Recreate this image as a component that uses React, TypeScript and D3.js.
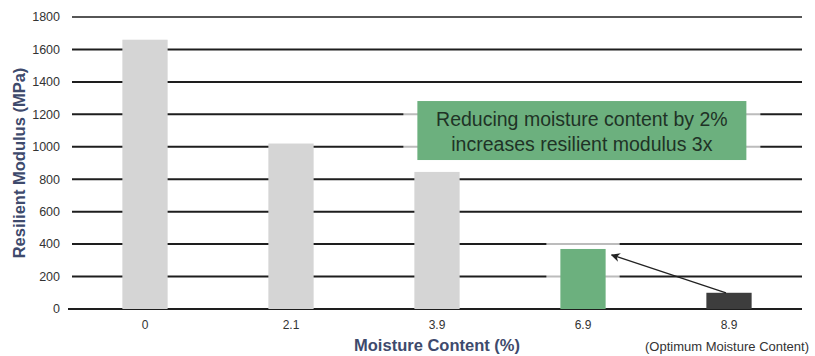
import * as d3 from "d3";
import { useEffect, useRef } from "react";

const categories = ["0", "2.1", "3.9", "6.9", "8.9"];
const modulusValues = [1660, 1020, 845, 370, 100];
const barColors = ["#d5d5d5", "#d5d5d5", "#d5d5d5", "#6cb07e", "#3d3d3d"];
const yTicks = [0, 200, 400, 600, 800, 1000, 1200, 1400, 1600, 1800];
const noteLines = ["Reducing moisture content by 2%", "increases resilient modulus 3x"];

export default function App() {
  const ref = useRef<SVGSVGElement>(null);

  useEffect(() => {
    if (!ref.current) return;
    const width = 815;
    const height = 356;
    const svg = d3.select(ref.current);
    svg.selectAll("*").remove();

    const margin = { top: 17, right: 13, bottom: 47, left: 72 };
    const innerW = width - margin.left - margin.right;
    const innerH = height - margin.top - margin.bottom;

    const x = d3
      .scaleBand()
      .domain(categories)
      .range([0, innerW])
      .paddingInner(0.69)
      .paddingOuter(0.345);
    const y = d3.scaleLinear().domain([0, 1800]).range([innerH, 0]);

    const g = svg
      .append("g")
      .attr("transform", `translate(${margin.left},${margin.top})`);

    // grid lines
    g.selectAll(".grid")
      .data(yTicks)
      .enter()
      .append("line")
      .attr("x1", (d) => (d === 0 ? -4 : 0))
      .attr("x2", innerW)
      .attr("y1", (d) => y(d))
      .attr("y2", (d) => y(d))
      .attr("stroke", "#1e1e1e")
      .attr("stroke-width", (d) => (d === 1800 ? 1.3 : 2));

    // y tick labels
    g.selectAll(".ylab")
      .data(yTicks)
      .enter()
      .append("text")
      .attr("x", -12)
      .attr("y", (d) => y(d))
      .attr("dy", "0.35em")
      .attr("text-anchor", "end")
      .attr("font-family", "Liberation Sans, Arial, sans-serif")
      .attr("font-size", 12.5)
      .attr("fill", "#333")
      .text((d) => d);

    // faded patch over the grid around the green bar
    g.append("rect")
      .attr("x", x("6.9")! - 14)
      .attr("y", y(400) - 3)
      .attr("width", x.bandwidth() + 28)
      .attr("height", innerH - y(400) + 1)
      .attr("fill", "#fff")
      .attr("opacity", 0.7);

    // bars
    g.selectAll(".bar")
      .data(modulusValues)
      .enter()
      .append("rect")
      .attr("x", (_, i) => x(categories[i])!)
      .attr("y", (d) => y(d))
      .attr("width", x.bandwidth())
      .attr("height", (d) => innerH - y(d))
      .attr("fill", (_, i) => barColors[i]);

    // x tick labels
    g.selectAll(".xlab")
      .data(categories)
      .enter()
      .append("text")
      .attr("x", (d) => x(d)! + x.bandwidth() / 2)
      .attr("y", innerH + 20)
      .attr("text-anchor", "middle")
      .attr("font-family", "Liberation Sans, Arial, sans-serif")
      .attr("font-size", 12)
      .attr("fill", "#333")
      .text((d) => d);

    g.append("text")
      .attr("x", x("8.9")! + x.bandwidth() / 2 - 2)
      .attr("y", innerH + 42)
      .attr("text-anchor", "middle")
      .attr("font-family", "Liberation Sans, Arial, sans-serif")
      .attr("font-size", 13)
      .attr("fill", "#333")
      .text("(Optimum Moisture Content)");

    // annotation box
    const boxX = x("3.9")! + 3;
    const boxY = y(1282);
    const boxW = 329;
    const boxH = 59;
    g.append("rect")
      .attr("x", boxX - 14)
      .attr("y", boxY + 8)
      .attr("width", boxW + 28)
      .attr("height", boxH - 16)
      .attr("fill", "#fff")
      .attr("opacity", 0.7);
    g.append("rect")
      .attr("x", boxX)
      .attr("y", boxY)
      .attr("width", boxW)
      .attr("height", boxH)
      .attr("fill", "#6cb07e");
    g.selectAll(".note")
      .data(noteLines)
      .enter()
      .append("text")
      .attr("x", boxX + boxW / 2)
      .attr("y", (_, i) => boxY + 25 + i * 25)
      .attr("text-anchor", "middle")
      .attr("font-family", "Liberation Sans, Arial, sans-serif")
      .attr("font-size", 19.5)
      .attr("fill", "#1f3326")
      .text((d) => d);

    // arrow from optimum bar to green bar
    const defs = svg.append("defs");
    defs
      .append("marker")
      .attr("id", "arrowhead")
      .attr("viewBox", "0 0 10 10")
      .attr("refX", 9)
      .attr("refY", 5)
      .attr("markerWidth", 7)
      .attr("markerHeight", 7)
      .attr("orient", "auto")
      .append("path")
      .attr("d", "M0,0 L10,5 L0,10 L3,5 Z")
      .attr("fill", "#222");

    const fromX = x("8.9")! + x.bandwidth() / 2 - 3;
    const fromY = y(modulusValues[4]);
    const toX = x("6.9")! + x.bandwidth() + 6;
    const toY = y(modulusValues[3]) + 6;
    g.append("line")
      .attr("x1", fromX)
      .attr("y1", fromY)
      .attr("x2", toX)
      .attr("y2", toY)
      .attr("stroke", "#222")
      .attr("stroke-width", 1.3)
      .attr("marker-end", "url(#arrowhead)");

    // axis titles
    svg
      .append("text")
      .attr("transform", `translate(25,${margin.top + innerH / 2}) rotate(-90)`)
      .attr("text-anchor", "middle")
      .attr("font-family", "Liberation Sans, Arial, sans-serif")
      .attr("font-size", 16.5)
      .attr("font-weight", "bold")
      .attr("fill", "#3e4a6c")
      .text("Resilient Modulus (MPa)");

    svg
      .append("text")
      .attr("x", margin.left + innerW / 2)
      .attr("y", height - 5)
      .attr("text-anchor", "middle")
      .attr("font-family", "Liberation Sans, Arial, sans-serif")
      .attr("font-size", 16.5)
      .attr("font-weight", "bold")
      .attr("fill", "#3e4a6c")
      .text("Moisture Content (%)");
  }, []);

  return (
    <svg
      ref={ref}
      width={815}
      height={356}
      style={{ position: "absolute", left: 0, top: 0, background: "#fff" }}
    />
  );
}
